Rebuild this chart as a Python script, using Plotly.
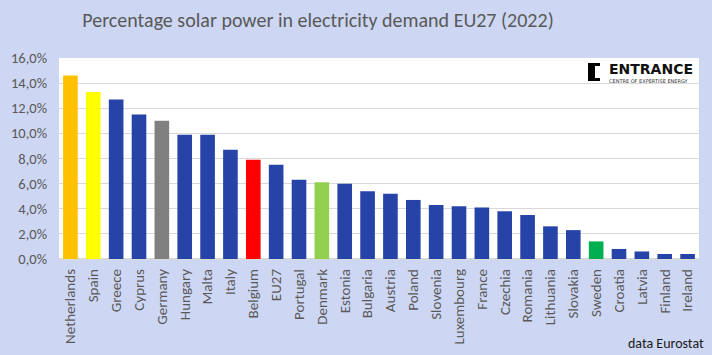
import plotly.graph_objects as go

countries = ["Netherlands", "Spain", "Greece", "Cyprus", "Germany", "Hungary", "Malta", "Italy",
             "Belgium", "EU27", "Portugal", "Denmark", "Estonia", "Bulgaria", "Austria", "Poland",
             "Slovenia", "Luxembourg", "France", "Czechia", "Romania", "Lithuania", "Slovakia",
             "Sweden", "Croatia", "Latvia", "Finland", "Ireland"]
solar_share = [14.6, 13.3, 12.7, 11.5, 11.0, 9.9, 9.9, 8.7, 7.9, 7.5, 6.3, 6.1, 6.0, 5.4, 5.2, 4.7,
               4.3, 4.2, 4.1, 3.8, 3.5, 2.6, 2.3, 1.4, 0.8, 0.6, 0.4, 0.4]
highlight = {"Netherlands": "#FFC000", "Spain": "#FFFF00", "Germany": "#808080",
             "Belgium": "#FF0000", "Denmark": "#92D050", "Sweden": "#00B050"}
base_color = "#2644A8"
colors = [highlight.get(c, base_color) for c in countries]
y_ticks = [0, 2, 4, 6, 8, 10, 12, 14, 16]
y_tick_labels = [f"{v:.1f}%".replace(".", ",") for v in y_ticks]

# plot area in pixels
PL, PR, PT, PB = 59, 699, 58, 259
W, H = 712, 355


def px(x):
    return (x - PL) / (PR - PL)


def py(y):
    return (PB - y) / (PB - PT)


fig = go.Figure(go.Bar(x=countries, y=solar_share, marker=dict(color=colors, line=dict(width=0)),
                       hoverinfo="x+y"))

font_family = "Carlito, Calibri, Lato, sans-serif"
fig.update_layout(
    width=W, height=H,
    margin=dict(l=PL, r=W - PR, t=PT, b=H - PB, autoexpand=False),
    paper_bgcolor="#CDD7F3",
    plot_bgcolor="#FFFFFF",
    bargap=0.36,
    showlegend=False,
    font=dict(family=font_family, color="#595959"),
    title=dict(text="Percentage solar power in electricity demand EU27 (2022)",
               x=318 / W, xanchor="center", y=1 - 20 / H, yanchor="middle",
               font=dict(size=20, color="#595959", family=font_family)),
    xaxis=dict(tickangle=-90, tickfont=dict(size=15, color="#595959"), showgrid=False,
               ticks="", showline=False, automargin=False, ticklabelstandoff=6),
    yaxis=dict(range=[0, 16], tickvals=y_ticks, ticktext=y_tick_labels,
               tickfont=dict(size=14.5, color="#595959"), gridcolor="#D9D9D9", gridwidth=1,
               zeroline=True, zerolinecolor="#D9D9D9", ticks="", ticklabelstandoff=11,
               automargin=False),
)

# ENTRANCE logo (bracket + text)
for x0, x1, y0, y1 in [(588, 595, 63, 81), (588, 600, 63, 66), (588, 600, 78, 81)]:
    fig.add_shape(type="rect", xref="paper", yref="paper",
                  x0=px(x0), x1=px(x1), y0=py(y1), y1=py(y0),
                  fillcolor="#000000", line=dict(width=0))
fig.add_annotation(xref="paper", yref="paper", x=px(607), y=py(69),
                   text="<b>ENTRANCE</b>", showarrow=False, xanchor="left", yanchor="middle",
                   font=dict(size=14, color="#111111", family="DejaVu Sans, sans-serif"))
fig.add_annotation(xref="paper", yref="paper", x=px(607), y=py(80.5),
                   text="CENTRE OF EXPERTISE ENERGY", showarrow=False, xanchor="left",
                   yanchor="middle",
                   font=dict(size=5, color="#333333", family="DejaVu Sans, sans-serif"))
fig.add_annotation(xref="paper", yref="paper", x=px(706), y=py(343),
                   text="data Eurostat", showarrow=False, xanchor="right", yanchor="middle",
                   font=dict(size=14, color="#1a1a1a", family=font_family))

fig.write_html("out.html", config={"displayModeBar": False},
               post_script="document.body.style.margin='0';document.body.style.overflow='hidden';")
